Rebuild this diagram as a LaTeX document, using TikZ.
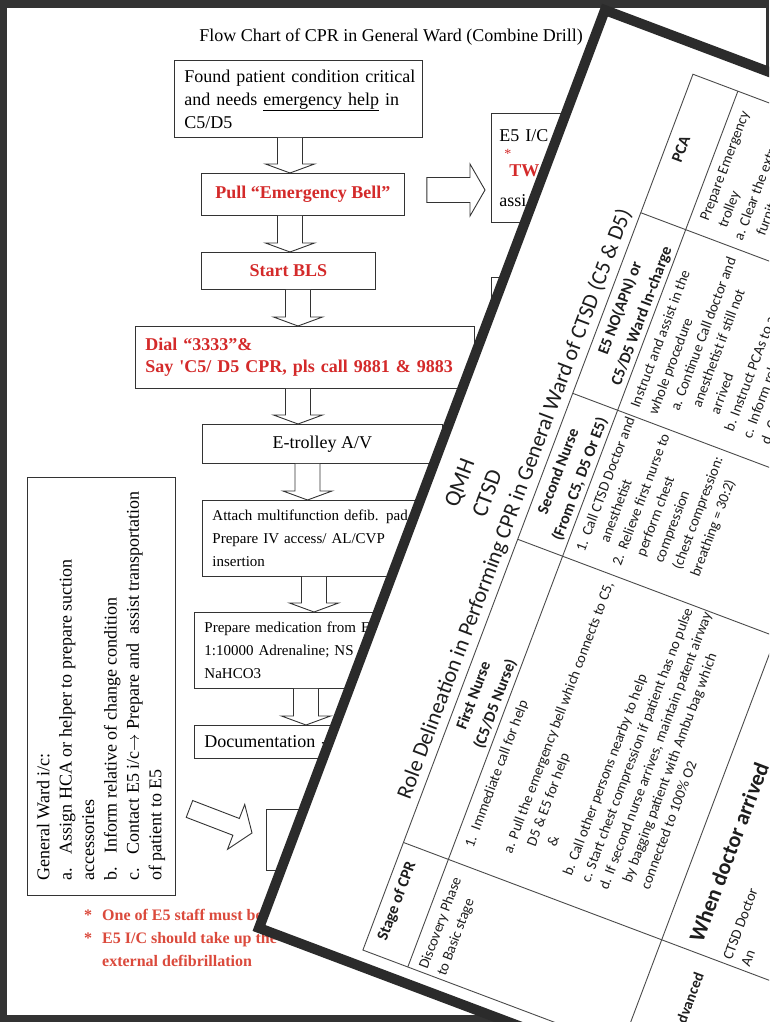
\documentclass[tikz,border=0pt]{standalone}
\usepackage{fontspec}
\setmainfont{Liberation Serif}
\newfontfamily\calibri{Carlito}
\usetikzlibrary{calc}
\definecolor{framegray}{HTML}{333333}
\definecolor{edgegray}{HTML}{2B2B2B}
\definecolor{flowred}{HTML}{D42A2A}
\definecolor{notered}{HTML}{DB4A3C}
\definecolor{inkgray}{HTML}{1E1E1E}
\definecolor{rulegray}{HTML}{4A4A4A}
\tikzstyle{fbox}=[draw=black!80, line width=0.9pt, rectangle, anchor=north west, inner xsep=10pt, inner ysep=0pt, align=left, font=\fontsize{18}{23}\selectfont]
\tikzstyle{redbox}=[fbox, align=center, text=flowred, font=\fontsize{18}{22}\selectfont\bfseries]
\tikzstyle{smallbox}=[fbox, font=\fontsize{15}{23}\selectfont]
\tikzstyle{hollow}=[draw=black!80, line width=0.9pt, fill=white, line join=miter]
\tikzstyle{redremark}=[anchor=north west, inner sep=0pt, align=left, text=notered, font=\fontsize{16}{23}\selectfont\bfseries]
\tikzstyle{tbltext}=[transform shape, inner sep=0pt, text=inkgray, font=\calibri\fontsize{14.7}{19.3}\selectfont]
\tikzstyle{tblbody}=[tbltext, anchor=north west, align=left]
\tikzstyle{tblhead}=[tbltext, align=center, font=\calibri\bfseries\fontsize{16}{23}\selectfont]
\tikzstyle{tbltitle}=[tbltext, font=\calibri\fontsize{22}{26}\selectfont]
\tikzstyle{tline}=[draw=rulegray, line width=0.9pt]
\tikzstyle{paperedge}=[draw=edgegray, line width=10pt, line join=miter]
% hollow block arrow: x position, upper node, lower node
\newcommand{\hollowdown}[3]{%
  \draw[hollow] let \p1=(#2.south), \p2=(#3.north) in
    (#1pt-12.5pt,\y1) -- (#1pt-12.5pt,\y2+9pt) -- (#1pt-24.5pt,\y2+9pt) -- (#1pt,\y2)
    -- (#1pt+24.5pt,\y2+9pt) -- (#1pt+12.5pt,\y2+9pt) -- (#1pt+12.5pt,\y1);}
% hollow block arrow: y position, left node, right node
\newcommand{\hollowright}[3]{%
  \draw[hollow] let \p1=(#2.east), \p2=(#3.west) in
    (\x1+22pt,-#1pt+12.5pt) -- (\x2-21pt,-#1pt+12.5pt) -- (\x2-21pt,-#1pt+26pt) -- (\x2-6pt,-#1pt)
    -- (\x2-21pt,-#1pt-26pt) -- (\x2-21pt,-#1pt-12.5pt) -- (\x1+22pt,-#1pt-12.5pt) -- cycle;}
\begin{document}
\begin{tikzpicture}[x=1pt, y=-1pt]
\useasboundingbox (0,0) rectangle (769,1022);
\fill[framegray] (0,0) rectangle (769,1022);
\fill[white] (7,8) rectangle (766,1015);

% flow chart sheet
\node[font=\fontsize{18}{22}\selectfont] (charttitle) at (391,37) {Flow Chart of CPR in General Ward (Combine Drill)};
\node[fbox, minimum width=248pt, minimum height=77pt, text width=228pt] (found) at (174,60) {\mbox{Found patient condition critical}\\ \mbox{and needs \underline{emergency help} in}\\ C5/D5};
\node[redbox, minimum width=203pt, minimum height=42pt] (bell) at (201,173) {Pull “Emergency Bell”};
\node[redbox, minimum width=174pt, minimum height=37pt] (bls) at (201,252) {Start BLS};
\node[redbox, align=left, text width=319pt, minimum height=62pt] (dial) at (135,326) {Dial “3333”\&\\ \mbox{Say \textquotesingle C5/ D5 CPR, pls call 9881 \& 9883}};
\node[fbox, align=center, minimum width=240pt, minimum height=39pt] (trolley) at (202,424) {E-trolley A/V};
\node[smallbox, text width=250pt, minimum height=76pt] (defib) at (202,500) {Attach multifunction defib. pad.,\\ Prepare IV access/ AL/CVP\\ insertion};
\node[smallbox, text width=250pt, minimum height=76pt] (medic) at (194,612) {Prepare medication from E\\ 1:10000 Adrenaline; NS f\\ NaHCO3};
\node[fbox, text width=250pt, minimum height=33pt] (docu) at (194,725) {Documentation -};
\node[fbox, minimum width=150pt, minimum height=61pt] (target) at (266,809) {};
\node[fbox, inner xsep=8pt, text width=140pt, minimum height=109pt] (eic) at (491,113) {E5 I/C\\[-6pt] \hspace*{5pt}{\color{flowred}\fontsize{14}{14}\selectfont *}\\[-5pt] \hspace*{10pt}{\color{flowred}\bfseries TW}\\[7pt] assi};
\node[fbox, minimum width=120pt, minimum height=90pt] (nextbox) at (491,277) {};
\node[fbox, rotate=90, anchor=center, minimum width=418pt, minimum height=148pt, font=\fontsize{18}{22.4}\selectfont] (gward) at (101,686) {General Ward i/c:\\ a.\hspace{14pt}Assign HCA or helper to prepare suction\\ accessories\\ b.\hspace{14pt}Inform relative of change condition\\ c.\hspace{14pt}Contact E5 i/c$\rightarrow$ Prepare and\ \ assist transportation\\ of patient to E5};
\node[redremark] (remarks) at (84,909) {\makebox[18pt][l]{*}One of E5 staff must be s\\ \makebox[18pt][l]{*}E5 I/C should take up the\\ \hspace*{18pt}external defibrillation};

\hollowdown{290}{found}{bell}
\hollowdown{290}{bell}{bls}
\hollowdown{298}{bls}{dial}
\hollowdown{298}{dial}{trolley}
\hollowdown{307.5}{trolley}{defib}
\hollowdown{314}{defib}{medic}
\hollowdown{306}{medic}{docu}
\hollowright{190}{bell}{eic}
\begin{scope}[shift={($(target.west)+(-14,-7)$)}, rotate=-21]
  \draw[hollow] (0,0) -- (-17,24) -- (-17,9) -- (-67,9) -- (-67,-9) -- (-17,-9) -- (-17,-24) -- cycle;
\end{scope}

% role delineation sheet on top
\begin{scope}
\clip (0,0) rectangle (769,1022);
\begin{scope}[shift={(259,928)}, rotate=69.35]
  \fill[white] (0,0) rectangle (981,1400);
  \node[tbltitle, font=\calibri\fontsize{23}{26}\selectfont] (qmh) at (487,32) {QMH};
  \node[tbltitle, font=\calibri\fontsize{23}{26}\selectfont] (ctsd) at (487,60) {CTSD};
  \node[tbltitle] (roletitle) at (487,90) {Role Delineation in Performing CPR in General Ward of CTSD (C5 \& D5)};
  \draw[tline] (16,105) rectangle (952,1400);
  \draw[tline] (16,153) -- (952,153);
  \draw[tline] (16,381) -- (952,381);
  \foreach \col in {131,455,611,804} \draw[tline] (\col,105) -- (\col,381);
  \draw[tline] (131,381) -- (131,1400);
  \node[tblhead] (stagehd) at (73.5,120) {Stage of CPR};
  \node[tblhead] (firsthd) at (293,131) {First Nurse\\(C5/D5 Nurse)};
  \node[tblhead] (secondhd) at (533,131) {Second Nurse\\(From C5, D5 Or E5)};
  \node[tblhead] (e5hd) at (707.5,131) {E5 NO(APN) or\\C5/D5 Ward In-charge};
  \node[tblhead] (pcahd) at (878,120) {PCA};
  \node[tblbody] (stagebody) at (20,162) {Discovery Phase\\to Basic stage};
  \node[tblbody] (firstbody) at (150,162) {\makebox[18pt][l]{1.}Immediate call for help\\[19pt]
    \hspace*{8pt}a. Pull the emergency bell which connects to C5,\\
    \hspace*{23pt}D5 \& E5 for help\\
    \hspace*{30pt}\&\\[6pt]
    \hspace*{8pt}b. Call other persons nearby to help\\
    \hspace*{8pt}c. Start chest compression if patient has no pulse\\
    \hspace*{8pt}d. If second nurse arrives, maintain patent airway\\
    \hspace*{23pt}by bagging patient with Ambu bag which\\
    \hspace*{23pt}connected to 100\% O2};
  \node[tblbody] (secondbody) at (466,162) {\makebox[17pt][l]{1.}Call CTSD Doctor and\\
    \hspace*{17pt}anesthetist\\
    \makebox[17pt][l]{2.}Relieve first nurse to\\
    \hspace*{17pt}perform chest\\
    \hspace*{17pt}compression\\
    \hspace*{17pt}(chest compression:\\
    \hspace*{17pt}breathing = 30:2)};
  \node[tblbody] (e5body) at (620,162) {Instruct and assist in the\\
    whole procedure\\
    \hspace*{11pt}a. Continue Call doctor and\\
    \hspace*{22pt}anesthetist if still not\\
    \hspace*{22pt}arrived\\
    \hspace*{11pt}b. Instruct PCAs to assist\\
    \hspace*{11pt}c. Inform relative\\
    \hspace*{11pt}d. C};
  \node[tblbody] (pcabody) at (813,162) {\hspace*{6pt}Prepare Emergency\\
    \hspace*{6pt}trolley\\
    a. Clear the extra\\
    \hspace*{12pt}furniture};
  \node[tbltext, font=\calibri\bfseries\fontsize{15}{19}\selectfont] (advstage) at (82,428) {Advanced};
  \node[tbltext, anchor=west, font=\calibri\bfseries\fontsize{22}{26}\selectfont] (doctorrow) at (142,413) {When doctor arrived};
  \node[tblbody] (doctorbody) at (136,444) {CTSD Doctor\\An};
  \draw[paperedge] (0,0) rectangle (981,1400);
\end{scope}
\end{scope}
\end{tikzpicture}
\end{document}
